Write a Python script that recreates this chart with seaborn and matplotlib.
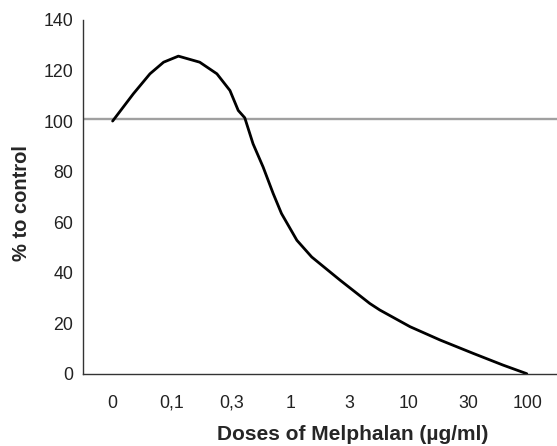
import matplotlib
matplotlib.use("Agg")
import matplotlib.pyplot as plt
import seaborn as sns
import pandas as pd
from matplotlib.ticker import FixedLocator

sns.set_style("white")
plt.rcParams['font.family'] = ['Liberation Sans', 'DejaVu Sans']

# Category labels for doses
dose_labels = ["0", "0,1", "0,3", "1", "3", "10", "30", "100"]

# Curve (position in category units, % to control)
curve_pos = [0.0, 0.35, 0.63, 0.86, 1.11, 1.47, 1.76, 1.98, 2.12, 2.23, 2.37,
             2.54, 2.71, 2.85, 3.11, 3.36, 3.84, 4.34, 4.51, 5.02, 5.53,
             6.09, 6.59, 6.99]
curve_val = [100.0, 110.8, 118.7, 123.3, 125.7, 123.3, 118.7, 112.1, 104.2,
             101.3, 91.0, 81.8, 71.3, 63.4, 52.8, 46.2, 37.0, 27.8, 25.2,
             18.6, 13.3, 8.0, 3.4, 0.0]
control_level = 101

df = pd.DataFrame({"pos": curve_pos, "val": curve_val})

fig = plt.figure(figsize=(5.57, 4.46), dpi=100)
ax = fig.add_axes([83/557, (446-373.7)/446, (557-83)/557, (373.7-20)/446])

ax.axhline(control_level, color="#a0a0a0", lw=1.7, zorder=1)
sns.lineplot(data=df, x="pos", y="val", sort=False, color="black", lw=2.0,
             ax=ax, zorder=2)

ax.set_xlim(-0.5, len(dose_labels) - 0.5)
ax.set_ylim(0, 140)
ax.set_yticks(range(0, 141, 20))
ax.set_xticks(range(len(dose_labels)))
ax.set_xticklabels(dose_labels)
ax.xaxis.set_minor_locator(FixedLocator([i - 0.5 for i in range(len(dose_labels) + 1)]))
ax.tick_params(axis="x", which="major", length=0, pad=15, labelsize=12.8, labelcolor="#222222")
ax.tick_params(axis="x", which="minor", length=3, width=1, direction="out", color="#333333")
ax.tick_params(axis="y", which="major", length=3, width=1, direction="out",
               labelsize=12.8, color="#333333", labelcolor="#222222", pad=4)

for s in ["top", "right"]:
    ax.spines[s].set_visible(False)
for s in ["left", "bottom"]:
    ax.spines[s].set_color("#333333")
    ax.spines[s].set_linewidth(1)

ax.set_xlabel("Doses of Melphalan (µg/ml)", fontsize=15, fontweight="bold")
ax.set_ylabel("% to control", fontsize=14.5, fontweight="bold")
ax.xaxis.label.set_va("center")
ax.yaxis.label.set_va("center")
ax.xaxis.set_label_coords((352.5 - 83) / 474, -(435 - 373.7) / 353.7)
ax.yaxis.set_label_coords(-(83 - 22) / 474, (373.7 - 203) / 353.7)

fig.savefig("out.png", dpi=100)
